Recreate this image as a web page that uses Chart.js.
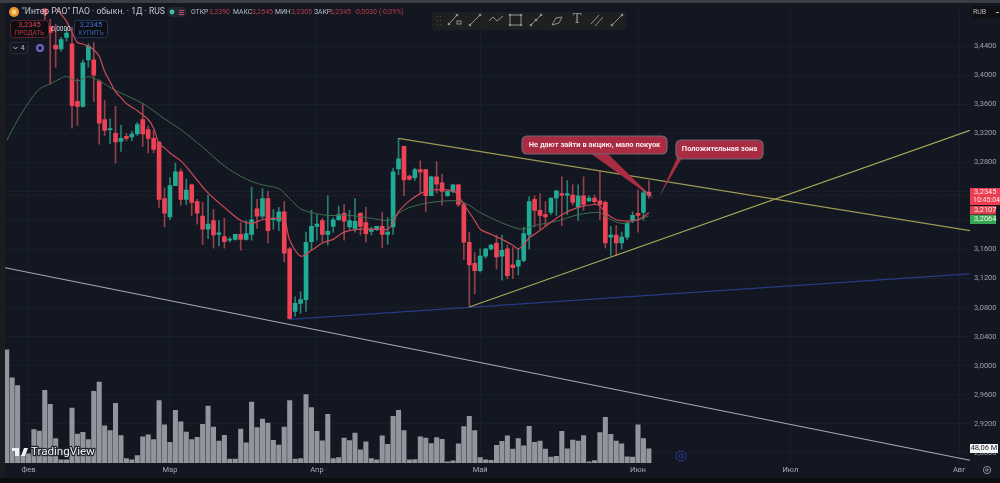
<!DOCTYPE html>
<html>
<head>
<meta charset="utf-8">
<title>Интер РАО</title>
<style>
  html, body { margin: 0; padding: 0; background: #131722; }
  canvas { display: block; }
</style>
<script src="https://cdn.jsdelivr.net/npm/chart.js@4"></script>
</head>
<body>
<canvas id="chart" width="1000" height="483"></canvas>
<script>
// Daily candles, the first seven sessions are above the visible price range
const opens = [null,null,null,null,null,null,null,
  3.493,3.467,3.441,3.436,3.452,3.443,3.364,3.357,3.421,3.421,3.392,3.339,3.325,
  3.320,3.309,3.316,3.315,3.319,3.339,3.325,3.313,3.308,3.230,3.205,3.248,3.267,3.229,3.249,3.226,
  3.206,3.188,3.200,3.181,3.178,3.173,3.174,3.181,3.174,3.181,3.216,3.206,3.230,3.201,3.199,3.212,
  3.161,3.075,3.086,3.091,3.171,3.192,3.200,3.181,3.192,3.201,3.210,3.191,3.189,3.210,3.197,3.185,
  3.188,3.192,3.181,3.191,3.271,3.302,3.261,3.259,3.270,3.270,3.234,3.260,3.252,3.234,3.240,3.249,
  3.222,3.170,3.141,3.131,3.151,3.161,3.169,3.151,3.161,3.139,3.137,3.145,3.180,3.229,3.214,3.208,
  3.211,3.231,3.237,3.235,3.235,3.219,3.234,3.227,3.231,3.227,3.225,3.177,3.180,3.169,3.177,3.200,
  3.210,3.211,3.2390];
const highs = [null,null,null,null,null,null,null,
  3.510,3.477,3.470,3.452,3.465,3.466,3.395,3.421,3.443,3.445,3.394,3.365,3.340,
  3.357,3.331,3.320,3.323,3.335,3.361,3.330,3.324,3.309,3.245,3.259,3.279,3.271,3.257,3.250,3.229,
  3.225,3.235,3.215,3.200,3.203,3.177,3.181,3.197,3.200,3.246,3.229,3.244,3.240,3.215,3.218,3.226,
  3.163,3.095,3.102,3.184,3.214,3.208,3.203,3.234,3.204,3.220,3.222,3.214,3.230,3.211,3.218,3.191,
  3.192,3.211,3.204,3.272,3.313,3.302,3.263,3.272,3.282,3.270,3.261,3.281,3.264,3.241,3.250,3.250,
  3.225,3.184,3.156,3.161,3.162,3.167,3.180,3.180,3.166,3.163,3.161,3.191,3.233,3.234,3.237,3.226,
  3.231,3.241,3.260,3.255,3.249,3.249,3.260,3.234,3.235,3.268,3.227,3.192,3.193,3.184,3.197,3.212,
  3.242,3.241,3.2545];
const lows = [null,null,null,null,null,null,null,
  3.470,3.388,3.411,3.433,3.447,3.327,3.331,3.356,3.411,3.364,3.305,3.317,3.306,
  3.279,3.295,3.310,3.310,3.317,3.302,3.293,3.293,3.218,3.191,3.201,3.248,3.221,3.222,3.207,3.195,
  3.167,3.175,3.162,3.165,3.162,3.170,3.173,3.159,3.173,3.173,3.189,3.203,3.169,3.188,3.186,3.143,
  3.064,3.068,3.072,3.075,3.159,3.173,3.170,3.166,3.184,3.200,3.173,3.188,3.184,3.180,3.170,3.180,
  3.186,3.163,3.167,3.181,3.263,3.234,3.255,3.255,3.238,3.212,3.234,3.238,3.221,3.233,3.238,3.219,
  3.146,3.081,3.099,3.129,3.148,3.159,3.133,3.118,3.120,3.120,3.125,3.143,3.161,3.191,3.188,3.193,
  3.208,3.207,3.193,3.208,3.221,3.200,3.214,3.226,3.223,3.201,3.162,3.152,3.152,3.161,3.174,3.197,
  3.184,3.200,3.2305];
const closes = [null,null,null,null,null,null,null,
  3.484,3.459,3.436,3.449,3.458,3.358,3.357,3.417,3.440,3.400,3.334,3.324,3.326,
  3.308,3.313,3.313,3.319,3.332,3.319,3.313,3.298,3.229,3.210,3.248,3.267,3.229,3.242,3.225,3.210,
  3.188,3.195,3.180,3.183,3.171,3.174,3.181,3.174,3.182,3.201,3.206,3.230,3.186,3.203,3.212,3.155,
  3.065,3.086,3.091,3.170,3.192,3.195,3.181,3.185,3.201,3.208,3.199,3.200,3.199,3.192,3.182,3.188,
  3.192,3.181,3.184,3.267,3.285,3.256,3.257,3.270,3.267,3.234,3.260,3.250,3.240,3.240,3.249,3.222,
  3.170,3.139,3.131,3.151,3.161,3.166,3.150,3.159,3.124,3.135,3.145,3.182,3.226,3.214,3.207,3.205,
  3.231,3.241,3.235,3.237,3.225,3.234,3.222,3.231,3.226,3.222,3.169,3.180,3.169,3.177,3.196,3.207,
  3.207,3.238,3.2345];

// Volume per session, millions
const volumes = [383,288,262,26,31,113,108,246,199,83,11,11,186,98,104,79,243,274,126,110,
  202,93,15,11,25,89,95,79,211,129,70,178,139,105,79,87,131,193,122,74,
  94,13,13,115,68,206,120,149,135,77,61,122,211,13,15,232,188,107,75,165,
  15,18,84,76,101,45,72,15,11,92,63,158,178,110,11,12,89,84,66,86,
  80,4,7,65,123,158,110,18,11,9,60,73,92,47,83,58,124,70,74,47,
  20,23,107,48,78,74,93,4,8,103,155,97,74,65,21,20,129,83,48.06];

// Moving averages, as session index and price
const fastIdx = [9,11,12,13,14,15,16,17,18,19,20,21,22,24,26,27,28,29,30,32,34,37,40,43,45,47,49,51,52,54,56,58,60,62,65,68,70,71,72,74,76,78,82,83,84,85,86,87,89,91,93,94,95,96,97,99,102,105,108,109,110,111,112,114,116,117,118];
const fastMa = [3.493,3.474,3.459,3.445,3.443,3.440,3.435,3.426,3.405,3.391,3.377,3.369,3.361,3.351,3.339,3.327,3.306,3.300,3.293,3.282,3.265,3.238,3.218,3.200,3.196,3.201,3.203,3.201,3.173,3.151,3.159,3.169,3.174,3.184,3.188,3.188,3.188,3.197,3.212,3.227,3.237,3.242,3.241,3.234,3.222,3.211,3.200,3.188,3.181,3.174,3.166,3.161,3.167,3.176,3.181,3.192,3.208,3.218,3.222,3.220,3.211,3.205,3.201,3.199,3.201,3.205,3.2107];
const slowIdx = [0,2,4,6,8,10,11,13,15,17,20,25,29,32,36,40,44,47,50,52,54,56,59,63,67,70,71,72,74,78,83,85,87,90,93,95,97,101,105,109,110,113,116,118];
const slowMa = [3.310,3.338,3.362,3.381,3.388,3.396,3.398,3.392,3.398,3.392,3.379,3.361,3.340,3.325,3.301,3.275,3.257,3.249,3.244,3.230,3.216,3.211,3.207,3.207,3.203,3.200,3.204,3.210,3.218,3.225,3.227,3.221,3.211,3.200,3.191,3.188,3.193,3.199,3.208,3.211,3.205,3.196,3.201,3.2064];

// Hand drawn trend lines, as [session index, price] end points
const resistance = [[72, 3.313], [177, 3.186]];
const support = [[85, 3.081], [177, 3.324]];
const blueLine = [[52, 3.064], [177, 3.1265]];
const whiteLine = [[-0.31, 3.135], [177, 2.870]];

const lastPrice = 3.2345;
const priceTicks = [2.88,2.92,2.96,3.00,3.04,3.08,3.12,3.16,3.20,3.24,3.28,3.32,3.36,3.40,3.44];
const monthTicks = [4,30,57,87,116,144,175];
const monthLabels = ["Фев","Мар","Апр","Май","Июн","Июл","Авг"];

const UP = "#22ab94", DOWN = "#ee4357", UP_WICK = "#2b7f72", DOWN_WICK = "#93404c";
const FONT = "Roboto, sans-serif";

const toPoints = (pairs) => pairs.map(([x, y]) => ({ x, y }));
const isUp = (i) => closes[i] >= opens[i];
const sessions = opens.map((_, i) => i).filter((i) => opens[i] !== null);
const trend = (data, color, width) => ({
  type: "line", data: toPoints(data), yAxisID: "y", borderColor: color, borderWidth: width,
  pointRadius: 0, order: 1
});

// Draws a rounded crimson note with its tail ending on a price level
function callout(c, box, tailA, tailB, tipIdx, tipPrice, text) {
  const { x: xs, y: ys } = c.scales;
  const tx = xs.getPixelForValue(tipIdx), ty = ys.getPixelForValue(tipPrice);
  const ctx = c.ctx;
  const grad = ctx.createLinearGradient((tailA + tailB) / 2, box.y + box.h, tx, ty);
  grad.addColorStop(0, "#a92c43");
  grad.addColorStop(0.75, "#a92c43");
  grad.addColorStop(1, "#7f9db0");
  ctx.beginPath();
  ctx.moveTo(tailA, box.y + box.h - 1);
  ctx.lineTo(tx, ty);
  ctx.lineTo(tailB, box.y + box.h - 1);
  ctx.closePath();
  ctx.fillStyle = grad;
  ctx.fill();
  ctx.beginPath();
  ctx.roundRect(box.x, box.y, box.w, box.h, 5);
  ctx.fillStyle = "#a92c43";
  ctx.fill();
  ctx.strokeStyle = "#6f6674";
  ctx.lineWidth = 1.2;
  ctx.stroke();
  label(ctx, text, box.x + box.w / 2, box.y + box.h / 2, "bold 7.5px " + FONT, "#f6e9ec", "center");
}

function label(ctx, text, x, y, font, color, align) {
  ctx.font = font;
  ctx.fillStyle = color;
  ctx.textAlign = align || "left";
  ctx.textBaseline = "middle";
  ctx.fillText(text, x, y);
}

function tag(ctx, x, y, w, h, fill) {
  ctx.fillStyle = fill;
  ctx.fillRect(x, y, w, h);
}

// Panel colours behind the chart
const backdrop = {
  id: "backdrop",
  beforeDraw(c) {
    const ctx = c.ctx;
    tag(ctx, 0, 0, 1000, 483, "#131722");
    tag(ctx, 0, 0, 5, 483, "#1b1c21");
    tag(ctx, 0, 0, 1000, 3, "#3b3d45");
    tag(ctx, 0, 478, 1000, 5, "#0d0d0f");
  }
};

// Legend row, order buttons, price tags and drawing toolbar
const chrome = {
  id: "chrome",
  afterDraw(c) {
    const ctx = c.ctx;
    ctx.save();

    // symbol row
    ctx.beginPath();
    ctx.arc(14, 12, 5, 0, Math.PI * 2);
    ctx.fillStyle = "#e8952f";
    ctx.fill();
    ctx.beginPath();
    ctx.arc(14, 12, 2.4, 0, Math.PI * 2);
    ctx.fillStyle = "#f6cf7a";
    ctx.fill();
    label(ctx, "\"Интер РАО\" ПАО · обыкн. · 1Д · RUS", 22, 12, "8.6px " + FONT, "#c3c5cc");
    ctx.beginPath();
    ctx.roundRect(167, 7, 20, 10, 5);
    ctx.fillStyle = "#23262f";
    ctx.fill();
    ctx.beginPath();
    ctx.arc(172, 12, 2.4, 0, Math.PI * 2);
    ctx.fillStyle = "#3fc1a5";
    ctx.fill();
    tag(ctx, 179, 10, 5, 1, "#c2476b");
    tag(ctx, 179, 12, 5, 1, "#c2476b");
    tag(ctx, 179, 14, 5, 1, "#c2476b");
    const ohlc = [["ОТКР", 191, "3,2390", 209], ["МАКС", 233, "3,2545", 252], ["МИН", 275, "3,2305", 291], ["ЗАКР", 314, "3,2345", 330]];
    ohlc.forEach(([name, nx, val, vx]) => {
      label(ctx, name, nx, 12, "6.8px " + FONT, "#b9bbc3");
      label(ctx, val, vx, 12, "7px " + FONT, "#b73a4a");
    });
    label(ctx, "-0,0030 (-0,09%)", 354, 12, "7px " + FONT, "#b73a4a");

    // sell and buy buttons
    ctx.lineWidth = 1;
    ctx.beginPath();
    ctx.roundRect(10.5, 20.5, 38, 17, 3);
    ctx.fillStyle = "#0e0e12";
    ctx.fill();
    ctx.strokeStyle = "#5c2229";
    ctx.stroke();
    label(ctx, "3,2345", 29.5, 25.5, "7.5px " + FONT, "#d8404f", "center");
    label(ctx, "ПРОДАТЬ", 29.5, 33, "6.5px " + FONT, "#b8323f", "center");
    label(ctx, "0,0000", 61, 29, "6.5px " + FONT, "#d6d7da", "center");
    ctx.beginPath();
    ctx.roundRect(74.5, 20.5, 33, 17, 3);
    ctx.fillStyle = "#0e0e12";
    ctx.fill();
    ctx.strokeStyle = "#23365f";
    ctx.stroke();
    label(ctx, "3,2345", 91, 25.5, "7.5px " + FONT, "#3f6fd8", "center");
    label(ctx, "КУПИТЬ", 91, 33, "6.5px " + FONT, "#3560b8", "center");

    // collapsed indicator list
    ctx.beginPath();
    ctx.roundRect(10.5, 42.5, 17, 11, 2);
    ctx.strokeStyle = "#2a2d36";
    ctx.stroke();
    ctx.beginPath();
    ctx.moveTo(13.5, 47);
    ctx.lineTo(15.5, 49);
    ctx.lineTo(17.5, 47);
    ctx.strokeStyle = "#b5b7be";
    ctx.stroke();
    label(ctx, "4", 22.5, 48, "7.5px " + FONT, "#b5b7be", "center");
    ctx.beginPath();
    ctx.arc(40, 48, 3, 0, Math.PI * 2);
    ctx.strokeStyle = "#7a63c9";
    ctx.lineWidth = 2;
    ctx.stroke();

    // drawing toolbar
    ctx.beginPath();
    ctx.roundRect(432, 12, 194, 18, 2);
    ctx.fillStyle = "#1e1f20";
    ctx.fill();
    ctx.strokeStyle = "#8f8f8f";
    ctx.lineWidth = 1;
    [437, 440].forEach((dx) => [16, 20, 24].forEach((dy) => tag(ctx, dx, dy, 1, 1, "#4a4b4d")));
    ctx.fillStyle = "#8f8f8f";
    const seg = (x1, y1, x2, y2) => {
      ctx.beginPath();
      ctx.moveTo(x1, y1);
      ctx.lineTo(x2, y2);
      ctx.stroke();
    };
    const dot = (x, y) => {
      ctx.beginPath();
      ctx.arc(x, y, 1.3, 0, Math.PI * 2);
      ctx.fill();
    };
    seg(449, 24, 457, 15);
    dot(449, 24);
    dot(457, 15);
    ctx.strokeRect(457, 21, 4, 3);
    seg(470, 25, 480, 15);
    dot(470, 25);
    dot(480, 15);
    seg(489, 21, 493, 17);
    seg(493, 17, 497, 21);
    seg(497, 21, 503, 16);
    ctx.strokeRect(510, 15, 11, 10);
    [[510, 15], [521, 15], [510, 25], [521, 25]].forEach(([x, y]) => dot(x, y));
    seg(531, 25, 541, 15);
    dot(536, 20);
    dot(541, 15);
    dot(531, 25);
    seg(552, 25, 556, 18);
    seg(556, 18, 562, 17);
    seg(562, 17, 559, 23);
    seg(559, 23, 552, 25);
    label(ctx, "T", 577, 20, "13px 'DejaVu Serif', serif", "#8f8f8f", "center");
    seg(591, 24, 599, 15);
    seg(595, 26, 603, 17);
    seg(612, 25, 622, 15);
    ctx.fillStyle = "#8f8f8f";
    dot(612, 25);
    dot(622, 15);

    // notes on the chart
    ctx.lineWidth = 1;
    callout(c, { x: 522, y: 136, w: 145, h: 18 }, 590, 607, 118.9, 3.230, "Не дают зайти в акцию, мало покуок");
    callout(c, { x: 676, y: 140, w: 87, h: 19 }, 677, 682, 120, 3.234, "Положительная зона");

    // last price and average tags on the price axis
    tag(ctx, 970, 188, 30, 17, "#ee3d50");
    label(ctx, "3,2345", 974, 192.5, "7.5px " + FONT, "#fbe9eb");
    label(ctx, "10:45:04", 973, 200, "7px " + FONT, "#fbe9eb");
    tag(ctx, 970, 206, 26, 8.5, "#d9424f");
    label(ctx, "3,2107", 974, 210.5, "7.5px " + FONT, "#fbe9eb");
    tag(ctx, 970, 215, 26, 9, "#36a64f");
    label(ctx, "3,2064", 974, 219.5, "7.5px " + FONT, "#f2fbf3");
    tag(ctx, 970, 444, 28, 9, "#f3f3f4");
    label(ctx, "48,06 M", 984, 448.5, "7.5px " + FONT, "#2b2d33", "center");

    // currency switch
    tag(ctx, 972, 6, 28, 12, "#0f1014");
    label(ctx, "RUB", 973, 12, "7px " + FONT, "#b5b7be");
    tag(ctx, 996, 12, 3, 1, "#b5b7be");

    // corner buttons
    ctx.strokeStyle = "#8b8e97";
    ctx.lineWidth = 1;
    ctx.beginPath();
    ctx.arc(987, 470, 3.6, 0, Math.PI * 2);
    ctx.stroke();
    ctx.beginPath();
    ctx.arc(987, 470, 1.2, 0, Math.PI * 2);
    ctx.stroke();
    ctx.strokeStyle = "#26399c";
    ctx.beginPath();
    ctx.arc(681, 456, 5, 0, Math.PI * 2);
    ctx.stroke();
    ctx.beginPath();
    ctx.arc(681, 456, 2, 0, Math.PI * 2);
    ctx.stroke();

    // logo
    tag(ctx, 12, 448, 7, 3, "#f1f2f4");
    tag(ctx, 15, 448, 4, 8, "#f1f2f4");
    ctx.beginPath();
    ctx.moveTo(21, 456);
    ctx.lineTo(24, 448);
    ctx.lineTo(28, 448);
    ctx.lineTo(25, 456);
    ctx.closePath();
    ctx.fillStyle = "#f1f2f4";
    ctx.fill();
    ctx.lineWidth = 2.5;
    ctx.lineJoin = "round";
    ctx.strokeStyle = "#20232b";
    ctx.font = "11.6px " + FONT;
    ctx.textAlign = "left";
    ctx.textBaseline = "middle";
    ctx.strokeText("TradingView", 31, 452);
    ctx.fillStyle = "#f1f2f4";
    ctx.fillText("TradingView", 31, 452);
    ctx.restore();
  }
};

new Chart(document.getElementById("chart"), {
  data: {
    datasets: [
      trend(whiteLine, "#a9acb4", 1.1),
      trend(resistance, "#9c9a50", 1.1),
      trend(support, "#a8a655", 1.2),
      trend(blueLine, "#273a85", 1.2),
      {
        type: "line",
        data: toPoints([[-0.31, lastPrice], [177, lastPrice]]),
        yAxisID: "y", borderColor: "rgba(190,60,80,0.35)", borderWidth: 1, borderDash: [1, 2],
        pointRadius: 0, order: 9
      },
      {
        type: "line",
        data: fastIdx.map((x, i) => ({ x, y: fastMa[i] })),
        yAxisID: "y", borderColor: "#cf4a58", borderWidth: 1.2, pointRadius: 0, tension: 0.3, order: 2
      },
      {
        type: "line",
        data: slowIdx.map((x, i) => ({ x, y: slowMa[i] })),
        yAxisID: "y", borderColor: "#426c50", borderWidth: 1, pointRadius: 0, tension: 0.3, order: 2
      },
      {
        type: "bar",
        data: sessions.map((i) => ({ x: i, y: [opens[i], closes[i]] })),
        yAxisID: "y", grouped: false, barThickness: 4, minBarLength: 1,
        backgroundColor: (ctx) => (isUp(sessions[ctx.dataIndex]) ? UP : DOWN),
        order: 3
      },
      {
        type: "bar",
        data: sessions.map((i) => ({ x: i, y: [lows[i], highs[i]] })),
        yAxisID: "y", grouped: false, barThickness: 1,
        backgroundColor: (ctx) => (isUp(sessions[ctx.dataIndex]) ? UP_WICK : DOWN_WICK),
        order: 4
      },
      {
        type: "bar",
        data: volumes.map((v, i) => ({ x: i, y: v })),
        yAxisID: "vol", grouped: false, barThickness: 4.4,
        backgroundColor: "#93949c",
        order: 6
      }
    ]
  },
  options: {
    responsive: false,
    animation: false,
    events: [],
    layout: { padding: { left: 5, top: 4 } },
    plugins: { legend: { display: false }, tooltip: { enabled: false } },
    scales: {
      x: {
        type: "linear",
        offset: false,
        min: -0.31,
        max: 177,
        afterBuildTicks: (axis) => { axis.ticks = monthTicks.map((value) => ({ value })); },
        afterFit: (axis) => { axis.height = 20; },
        grid: { color: "#191e2b", drawTicks: false, offset: false },
        border: { display: false },
        ticks: {
          autoSkip: false, maxRotation: 0, padding: 3,
          color: "#a9abb3", font: { family: FONT, size: 7.5 },
          callback: (v) => monthLabels[monthTicks.indexOf(v)]
        }
      },
      y: {
        position: "right",
        min: 2.8662,
        max: 3.4918,
        afterBuildTicks: (axis) => { axis.ticks = priceTicks.map((value) => ({ value })); },
        afterFit: (axis) => { axis.width = 30; },
        grid: { color: "#191e2b", drawTicks: false },
        border: { display: false },
        ticks: {
          autoSkip: false, padding: 4,
          color: "#9ea1aa", font: { family: FONT, size: 7.5 },
          callback: (v) => v.toFixed(4).replace(".", ",")
        }
      },
      vol: { display: false, min: 0, max: 1539 }
    }
  },
  plugins: [backdrop, chrome]
});
</script>
</body>
</html>
